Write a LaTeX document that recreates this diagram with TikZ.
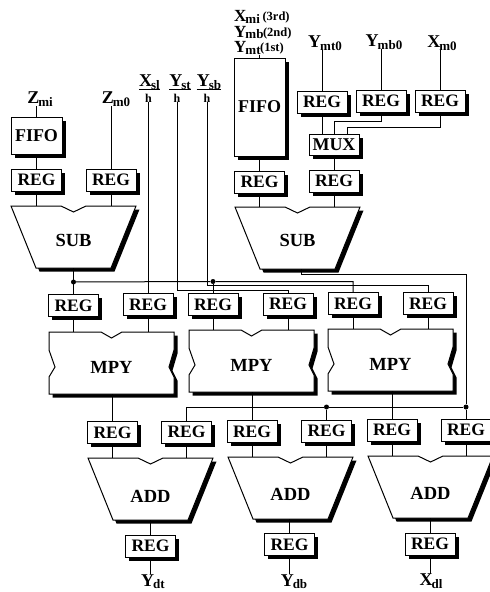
\documentclass[tikz,border=0pt]{standalone}
\usepackage{fontspec}
\setmainfont{Liberation Serif}
\usetikzlibrary{calc,shadows}
\newcommand{\fsz}[1]{\fontsize{#1}{#1}\selectfont\bfseries}
\newcommand{\lab}[2]{{\fsz{18}#1}\kern-1pt{\fsz{13}\raisebox{-2.5pt}{#2}}}
\newcommand{\stacklab}[2]{{\fsz{17}#1}\kern-1pt{\fsz{13}\raisebox{-1.5pt}{#2}}}
\newcommand{\tail}[1]{\kern-0.5pt{\fsz{12.5}\raisebox{1pt}{#1}}}
\tikzset{
  wire/.style={line width=1pt,black},
  blk/.style={draw=black,line width=1pt,fill=white,inner sep=0pt,
    general shadow={fill=black,shadow xshift=3.5pt,shadow yshift=-3.5pt}},
  regbox/.style={blk,minimum width=50pt,minimum height=22pt,font=\fsz{17.5}},
  fifobox/.style={blk,minimum width=51pt,font=\fsz{18}},
  muxbox/.style={blk,minimum width=50pt,minimum height=21pt,font=\fsz{18}},
  shapeline/.style={draw=black,line width=1pt,fill=white},
  shapeshadow/.style={fill=black,xshift=3.5pt,yshift=-3.5pt},
  opname/.style={inner sep=0pt,font=\fsz{18.5}},
  sig/.style={inner sep=0pt},
  hlab/.style={inner sep=0pt,font=\fsz{12}},
  dotnode/.style={circle,fill=black,inner sep=0pt,minimum size=5pt}
}
% name, left x, top y, label, label dy
\newcommand{\trapshape}[5]{%
  \def\trappath{(#2,#3) -- ++(50,0) -- ++(12.5,6) -- ++(12.5,-6) -- ++(50,0)
    -- ++(-25,62) -- ++(-75,0) -- cycle}
  \path[shapeshadow] \trappath;
  \path[shapeline] \trappath;
  \coordinate (#1-top) at (#2+62.5,#3);
  \coordinate (#1-bot) at (#2+62.5,#3+62);
  \node[opname] (#1) at (#2+62.5,#3+31+#5) {#4};
}
\newcommand{\mpyshape}[5]{%
  \def\mpypath{(#2,#3) -- ++(52,0) -- ++(10.5,6) -- ++(10.5,-6) -- ++(52,0)
    -- ++(0,18) -- ++(-5,17) -- ++(5,10) -- ++(0,17) -- ++(-125,0)
    -- ++(0,-17) -- ++(6,-10) -- ++(-6,-17) -- cycle}
  \path[shapeshadow] \mpypath;
  \path[shapeline] \mpypath;
  \coordinate (#1-top) at (#2+62.5,#3);
  \coordinate (#1-bot) at (#2+62.5,#3+62);
  \node[opname] (#1) at (#2+62.5,#3+31+#5) {#4};
}
\begin{document}
\begin{tikzpicture}[x=1pt,y=-1pt]
\useasboundingbox (0,0) rectangle (490,592);
\clip (0,0) rectangle (490,592);
\fill[white] (0,0) rectangle (490,592);

% upper left and upper right blocks
\node[fifobox,minimum height=37pt] (fifoA) at (36.5,135.5) {FIFO};
\node[regbox] (regA) at (36.5,180) {REG};
\node[regbox] (regB) at (111,180) {REG};
\node[fifobox,minimum height=98pt] (fifoB) at (259.5,107) {FIFO};
\node[regbox] (regC) at (259.5,182) {REG};
\node[regbox] (regD) at (334,181) {REG};
\node[muxbox] (mux) at (334,144.5) {MUX};
\node[regbox] (regE) at (322,102) {REG};
\node[regbox] (regF) at (381,101) {REG};
\node[regbox] (regG) at (440,101) {REG};

\trapshape{subA}{11}{206}{SUB}{3.5}
\trapshape{subB}{235}{207}{SUB}{2.5}

% MPY row inputs
\node[regbox] (r1) at (73.5,305.5) {REG};
\node[regbox] (r2) at (148,304.5) {REG};
\node[regbox] (r3) at (213,304.5) {REG};
\node[regbox] (r4) at (288,304) {REG};
\node[regbox] (r5) at (353,303.5) {REG};
\node[regbox] (r6) at (428,303.5) {REG};

\mpyshape{mpyA}{49}{332}{MPY}{4}
\mpyshape{mpyB}{189}{330}{MPY}{4}
\mpyshape{mpyC}{328}{329}{MPY}{4}

% ADD row inputs
\node[regbox] (s1) at (112.5,432.5) {REG};
\node[regbox] (s2) at (186.5,432) {REG};
\node[regbox] (s3) at (252,431.5) {REG};
\node[regbox] (s4) at (326.5,431) {REG};
\node[regbox] (s5) at (392,430) {REG};
\node[regbox] (s6) at (466,430) {REG};

\trapshape{addA}{88}{458}{ADD}{7}
\trapshape{addB}{228}{457}{ADD}{6}
\trapshape{addC}{368}{456}{ADD}{6}

\node[regbox] (t1) at (150.5,546) {REG};
\node[regbox] (t2) at (289.5,544.5) {REG};
\node[regbox] (t3) at (430,544) {REG};

% signal labels
\node[sig] (zmi) at (40,99) {\lab{Z}{mi}};
\node[sig] (zmo) at (116,99) {\lab{Z}{m0}};
\node[sig] (xsl) at (149.5,82) {\lab{X}{sl}};
\node[sig] (yst) at (180,82) {\lab{Y}{st}};
\node[sig] (ysb) at (209,82) {\lab{Y}{sb}};
\node[hlab] (hA) at (148.5,98) {h};
\node[hlab] (hB) at (177,98) {h};
\node[hlab] (hC) at (207,98) {h};
\node[sig,anchor=west] (xmi) at (234,17) {\stacklab{X}{mi}\tail{ (3rd)}};
\node[sig,anchor=west] (ymb) at (234,32.5) {\stacklab{Y}{mb}\tail{(2nd)}};
\node[sig,anchor=west] (ymt) at (234,48) {\stacklab{Y}{mt}\tail{(1st)}};
\node[sig] (ymtz) at (325,43) {\lab{Y}{mt0}};
\node[sig] (ymbz) at (384,42) {\lab{Y}{mb0}};
\node[sig] (xmz) at (442,43) {\lab{X}{m0}};
\node[sig] (ydt) at (153,581.5) {\lab{Y}{dt}};
\node[sig] (ydb) at (294,581.5) {\lab{Y}{db}};
\node[sig] (xdl) at (431,581) {\lab{X}{dl}};

% underlines
\draw[wire] ([yshift=-0.5pt]xsl.south west) -- ([yshift=-0.5pt]xsl.south east);
\draw[wire] ([yshift=-0.5pt]yst.south west) -- ([yshift=-0.5pt]yst.south east);
\draw[wire] ([yshift=-0.5pt]ysb.south west) -- ([yshift=-0.5pt]ysb.south east);

% top wiring
\draw[wire] (fifoA.north |- zmi.south) -- (fifoA.north);
\draw[wire] (fifoA.south) -- (regA.north);
\draw[wire] (regA.south) -- (regA.south |- subA-top);
\draw[wire] (regB.north |- zmo.south) -- (regB.north);
\draw[wire] (regB.south) -- (regB.south |- subA-top);
\draw[wire] (fifoB.north |- ymt.south) -- (fifoB.north);
\draw[wire] (fifoB.south) -- (regC.north);
\draw[wire] (regC.south) -- (regC.south |- subB-top);
\draw[wire] (regD.south) -- (regD.south |- subB-top);
\draw[wire] (mux.south) -- (regD.north);
\draw[wire] (regE.north |- ymtz.south) -- (regE.north);
\draw[wire] (regF.north |- ymbz.south) -- (regF.north);
\draw[wire] (regG.north |- xmz.south) -- (regG.north);
\draw[wire] (regE.south) -- (regE.south |- mux.north);
\draw[wire] (regF.south) -- ++(0,9) -| (mux.north);
\draw[wire] (regG.south) -- ++(0,15) -| ([xshift=13pt]mux.north);

% distribution to multipliers
\node[dotnode] (d1) at (73.5,282) {};
\node[dotnode] (d2) at (213,281.5) {};
\draw[wire] (subA-bot) -- (r1.north);
\draw[wire] (d1) -- (d2) -| (r5.north);
\draw[wire] (d2) -- (r3.north);
\draw[wire] (hA.south) -- (hA.south |- r2.north);
\draw[wire] (hB.south) |- ($(r4.north)+(0,-2)$) -- (r4.north);
\draw[wire] (hC.south) |- ($(r6.north)+(0,-7)$) -- (r6.north);
\foreach \a/\b in {r1/mpyA,r2/mpyA,r3/mpyB,r4/mpyB,r5/mpyC,r6/mpyC}
  \draw[wire] (\a.south) -- (\a.south |- \b-top);

% distribution to adders
\node[dotnode] (d3) at (326.5,407) {};
\node[dotnode] (d4) at (466,407) {};
\draw[wire] ($(subB-bot)+(3.5,0)$) -- ++(0,5) -| (d4);
\draw[wire] (d4) -- (d3) -| (s2.north);
\draw[wire] (d3) -- (s4.north);
\draw[wire] (d4) -- (s6.north);
\draw[wire] (s1.north |- mpyA-bot) -- (s1.north);
\draw[wire] (s3.north |- mpyB-bot) -- (s3.north);
\draw[wire] (s5.north |- mpyC-bot) -- (s5.north);
\foreach \a/\b in {s1/addA,s2/addA,s3/addB,s4/addB,s5/addC,s6/addC}
  \draw[wire] (\a.south) -- (\a.south |- \b-top);

% outputs
\draw[wire] (t1.north |- addA-bot) -- (t1.north);
\draw[wire] (t2.north |- addB-bot) -- (t2.north);
\draw[wire] (t3.north |- addC-bot) -- (t3.north);
\draw[wire] (t1.south) -- (t1.south |- ydt.north);
\draw[wire] (t2.south) -- (t2.south |- ydb.north);
\draw[wire] (t3.south) -- (t3.south |- xdl.north);
\end{tikzpicture}
\end{document}
